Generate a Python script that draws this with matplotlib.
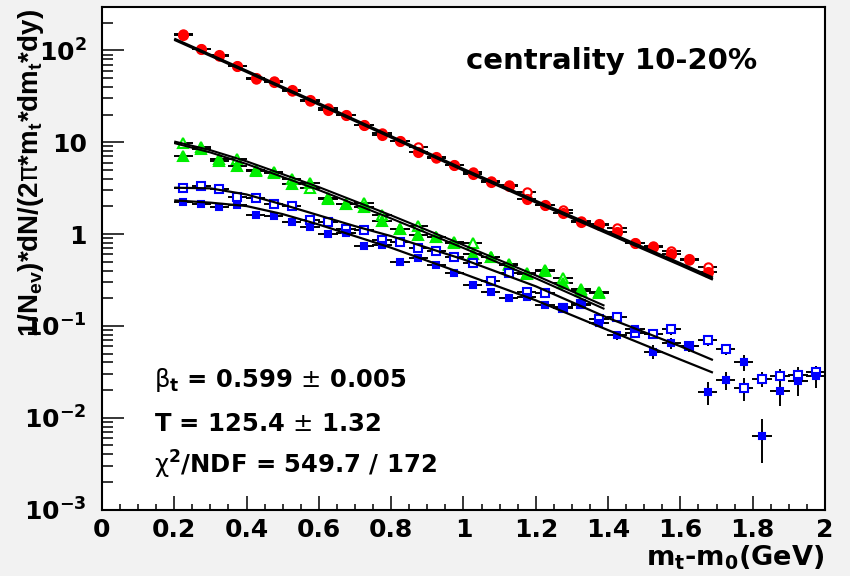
#!/usr/bin/env python3
"""
Blast-wave fit of identified particle m_t spectra, centrality 10-20%.
Points read off the published figure, fit curves sampled at a few nodes.
"""

import matplotlib
matplotlib.use("Agg")
import numpy as np
import matplotlib.pyplot as plt
from matplotlib.ticker import FixedLocator, LogLocator, MultipleLocator, NullFormatter

# bin centres in m_t - m_0 (GeV)
mt_bins = [0.225, 0.275, 0.325, 0.375, 0.425, 0.475, 0.525, 0.575, 0.625, 0.675,
           0.725, 0.775, 0.825, 0.875, 0.925, 0.975, 1.025, 1.075, 1.125, 1.175,
           1.225, 1.275, 1.325, 1.375, 1.425, 1.475, 1.525, 1.575, 1.625, 1.675,
           1.725, 1.775, 1.825, 1.875, 1.925, 1.975]
bin_half_width = 0.027

# pions (red)
red_filled = [147, 104, 89, 68.5, 49.7, 45, 37, 28.6, 22.7, 19.6, 15.4, 12.1, 10.4, 7.9, 6.9,
              5.7, 4.5, 3.7, 3.3, 2.44, 2.09, 1.69, 1.36, 1.28, 1.05, 0.81, 0.72, 0.6, 0.53, 0.39]
red_open = [150, 103, 88, 67, 49, 46, 36, 28, 23.5, 19.8, 15.6, 12.6, 10.2, 8.8, 6.8,
            5.6, 4.7, 3.8, 3.4, 2.9, 2.05, 1.85, 1.38, 1.27, 1.17, 0.8, 0.75, 0.65, 0.52, 0.44]
red_err = [0.03, 0.03, 0.03, 0.03, 0.03, 0.03, 0.03, 0.03, 0.03, 0.03, 0.03, 0.03, 0.03, 0.03, 0.03,
           0.03, 0.03, 0.03, 0.03, 0.03, 0.04, 0.04, 0.04, 0.04, 0.04, 0.04, 0.05, 0.05, 0.05, 0.05]

# kaons (green)
green_filled = [7.1, 8.5, 6.3, 5.5, 4.9, 4.6, 3.55, 3.6, 2.42, 2.12, 1.95, 1.38, 1.13, 0.975,
                0.935, 0.80, 0.6, 0.57, 0.47, 0.37, 0.40, 0.29, 0.25, 0.235]
green_open = [9.9, 8.8, 6.5, 6.5, 5.0, 4.7, 4.0, 3.15, 2.45, 2.15, 2.18, 1.62, 1.15, 1.22,
              0.92, 0.82, 0.79, 0.56, 0.46, 0.38, 0.41, 0.33, 0.24, 0.23]
green_err = [0.04, 0.04, 0.04, 0.04, 0.04, 0.04, 0.04, 0.04, 0.04, 0.04, 0.05, 0.05, 0.05, 0.05,
             0.05, 0.05, 0.06, 0.06, 0.06, 0.07, 0.07, 0.08, 0.08, 0.09]

# protons (blue)
blue_open = [3.14, 3.33, 3.09, 2.55, 2.46, 2.15, 2.0, 1.42, 1.35, 1.15, 1.1, 0.86, 0.82, 0.70,
             0.66, 0.57, 0.49, 0.31, 0.38, 0.232, 0.228, 0.157, 0.172, 0.118, 0.124, 0.083,
             0.081, 0.093, 0.061, 0.0697, 0.056, 0.0212, 0.0266, 0.0283, 0.0294, 0.0317]
blue_open_err = [0.04, 0.04, 0.04, 0.04, 0.04, 0.04, 0.04, 0.04, 0.04, 0.04, 0.04, 0.04, 0.04,
                 0.04, 0.04, 0.04, 0.04, 0.07, 0.07, 0.07, 0.07, 0.07, 0.07, 0.07, 0.10, 0.10,
                 0.12, 0.14, 0.13, 0.13, 0.13, 0.28, 0.19, 0.20, 0.20, 0.16]
blue_filled = [2.25, 2.12, 1.98, 2.08, 1.6, 1.58, 1.36, 1.2, 1.01, 1.03, 0.75, 0.77, 0.50, 0.55,
               0.46, 0.38, 0.28, 0.235, 0.2, 0.207, 0.171, 0.16, 0.169, 0.108, 0.079, 0.0916,
               0.0524, 0.0656, 0.060, 0.0192, 0.0255, 0.040, 0.0064, 0.0197, 0.0253, 0.0284]
blue_filled_err = [0.04, 0.04, 0.04, 0.04, 0.04, 0.04, 0.04, 0.04, 0.04, 0.04, 0.04, 0.04, 0.04,
                   0.04, 0.04, 0.04, 0.04, 0.08, 0.08, 0.08, 0.08, 0.08, 0.08, 0.08, 0.12, 0.12,
                   0.17, 0.14, 0.13, 0.29, 0.22, 0.20, 0.50, 0.32, 0.32, 0.25]

# fit curves, sampled at nodes
red_fit_x = [0.2, 0.4, 0.6, 0.8, 1.0, 1.2, 1.4, 1.6, 1.69]
red_fit_a = [134, 60, 26.5, 11.6, 5.1, 2.3, 1.05, 0.48, 0.335]
red_fit_b = [131, 58.5, 25.8, 11.3, 4.95, 2.22, 1.01, 0.46, 0.32]
green_fit_x = [0.2, 0.3, 0.4, 0.6, 0.8, 1.0, 1.2, 1.39]
green_fit_a = [10.2, 8.2, 6.2, 3.25, 1.6, 0.76, 0.355, 0.166]
green_fit_b = [9.8, 7.75, 5.8, 3.02, 1.48, 0.705, 0.33, 0.153]
blue_fit_x = [0.2, 0.3, 0.4, 0.5, 0.6, 0.7, 0.8, 1.0, 1.2, 1.4, 1.6, 1.69]
blue_open_fit = [3.2, 3.15, 2.7, 2.1, 1.6, 1.22, 0.95, 0.53, 0.27, 0.122, 0.06, 0.0425]
blue_filled_fit = [2.33, 2.2, 2.02, 1.65, 1.27, 0.95, 0.71, 0.37, 0.19, 0.09, 0.043, 0.031]

# axis ticks
x_ticks = [0, 0.2, 0.4, 0.6, 0.8, 1.0, 1.2, 1.4, 1.6, 1.8, 2.0]
x_tick_labels = ["0", "0.2", "0.4", "0.6", "0.8", "1", "1.2", "1.4", "1.6", "1.8", "2"]
y_ticks = [1e-3, 1e-2, 1e-1, 1, 10, 100]
y_tick_labels = [r"$\mathdefault{10^{-3}}$", r"$\mathdefault{10^{-2}}$", r"$\mathdefault{10^{-1}}$",
                 "1", "10", r"$\mathdefault{10^{2}}$"]

fit_text = [r"$\mathrm{\beta}_{\mathdefault{t}}$ = 0.599 $\mathrm{\pm}$ 0.005",
            r"T = 125.4 $\mathrm{\pm}$ 1.32",
            r"$\mathrm{\chi}^{\mathdefault{2}}$/NDF = 549.7 / 172"]

plt.rcParams['font.family'] = ['DejaVu Sans']
plt.rcParams['font.weight'] = 'bold'
plt.rcParams['mathtext.fontset'] = 'custom'
plt.rcParams['mathtext.rm'] = 'DejaVu Sans:weight=normal'
plt.rcParams['mathtext.it'] = 'DejaVu Sans:italic'
plt.rcParams['mathtext.bf'] = 'DejaVu Sans:bold'
plt.rcParams['mathtext.sf'] = 'DejaVu Sans'


def draw_points(ax, y, rel_err, color, marker, filled, size):
    x = mt_bins[:len(y)]
    y = np.array(y)
    yerr = y * np.array(rel_err)
    ax.errorbar(x, y, xerr=bin_half_width, yerr=yerr, fmt=marker, ms=size,
                mfc=color if filled else 'white', mec=color, mew=1.5,
                ecolor='black', elinewidth=1.4, capsize=0, zorder=3)


def draw_fit(ax, x, y, lw=1.6):
    ax.plot(x, y, color='black', lw=lw, zorder=5, solid_capstyle='butt')


fig = plt.figure(figsize=(8.5, 5.76), dpi=100, facecolor='#f2f2f2')
ax = fig.add_axes([0.1199, 0.1153, 0.9706 - 0.1199, 0.9885 - 0.1153])
ax.set_facecolor('white')

# open markers first so the filled ones sit on top where they coincide
draw_points(ax, red_open, red_err, 'red', 'o', False, 6.0)
draw_points(ax, red_filled, red_err, 'red', 'o', True, 6.5)
draw_points(ax, green_open, green_err, '#00ee00', '^', False, 6.5)
draw_points(ax, green_filled, green_err, '#00ee00', '^', True, 7.0)
draw_points(ax, blue_open, blue_open_err, 'blue', 's', False, 5.5)
draw_points(ax, blue_filled, blue_filled_err, 'blue', 's', True, 5.0)

draw_fit(ax, red_fit_x, red_fit_a, 1.8)
draw_fit(ax, red_fit_x, red_fit_b, 1.8)
draw_fit(ax, green_fit_x, green_fit_a, 1.5)
draw_fit(ax, green_fit_x, green_fit_b, 1.5)
draw_fit(ax, blue_fit_x, blue_open_fit, 1.6)
draw_fit(ax, blue_fit_x, blue_filled_fit, 1.6)

ax.set_xlim(0, 2)
ax.set_yscale('log')
ax.set_ylim(1e-3, 300)

ax.xaxis.set_major_locator(FixedLocator(x_ticks))
ax.set_xticklabels(x_tick_labels)
ax.xaxis.set_minor_locator(MultipleLocator(0.05))
ax.yaxis.set_major_locator(FixedLocator(y_ticks))
ax.set_yticklabels(y_tick_labels)
ax.yaxis.set_minor_locator(LogLocator(base=10, subs=(2, 3, 4, 5, 6, 7, 8, 9)))
ax.yaxis.set_minor_formatter(NullFormatter())

ax.tick_params(axis='x', which='major', direction='in', length=9.8, width=1.1,
               pad=6, labelsize=18, top=False)
ax.tick_params(axis='x', which='minor', direction='in', length=4.5, width=1.1, top=False)
ax.tick_params(axis='y', which='major', direction='in', length=15.6, width=1.1,
               pad=11, labelsize=18, right=False)
ax.tick_params(axis='y', which='minor', direction='in', length=7.7, width=1.1, right=False)
for side in ax.spines.values():
    side.set_linewidth(1.5)

ax.text(0.5035, 0.876, "centrality 10-20%", transform=ax.transAxes,
        fontsize=21, fontweight='bold', ha='left', va='baseline')
for txt, yb in zip(fit_text, [0.2447, 0.157, 0.0708]):
    ax.text(0.0727, yb, txt, transform=ax.transAxes, fontsize=17.5,
            fontweight='bold', ha='left', va='baseline')

fig.text(31 / 850, 1 - 9 / 576,
         r"1/N$_{\mathdefault{ev}}$)*dN/(2$\mathrm{\pi}$*m$_{\mathdefault{t}}$*dm$_{\mathdefault{t}}$*dy)",
         rotation=90, ha='center', va='top', fontsize=20, fontweight='bold',
         family=['Liberation Sans', 'DejaVu Sans'])
fig.text(824 / 850, 10 / 576, r"m$_{\mathdefault{t}}$-m$_{\mathdefault{0}}$(GeV)",
         ha='right', va='baseline', fontsize=19.5, fontweight='bold')

fig.savefig('out.png', dpi=100, facecolor=fig.get_facecolor())
